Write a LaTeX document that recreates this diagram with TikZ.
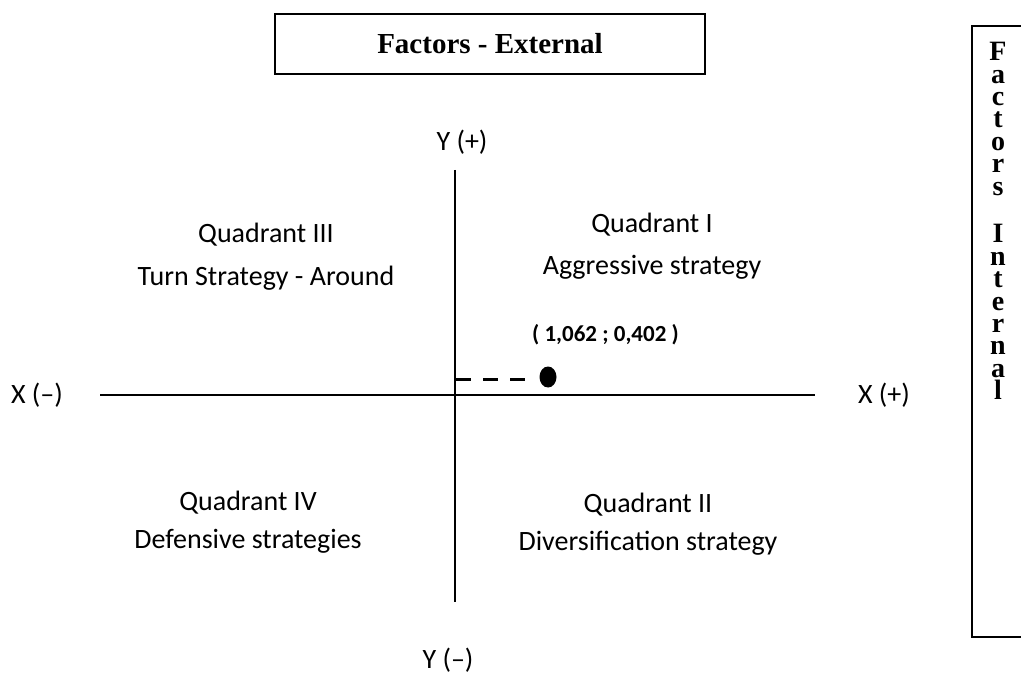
\documentclass[tikz,border=0pt]{standalone}
\usepackage{fontspec}
\setmainfont{Carlito}
\newfontfamily\timesf{Liberation Serif}
\usetikzlibrary{shapes.geometric}
\begin{document}
\begin{tikzpicture}[x=1pt,y=-1pt,
  lbl/.style={inner sep=0pt, font=\fontsize{28}{34}\selectfont},
  quad/.style={inner sep=0pt, align=center},
  axis/.style={line width=1.5pt},
  boxline/.style={line width=1.6pt}]
\useasboundingbox[fill=white] (0,0) rectangle (1021,679);
% title box
\node[draw, boxline, minimum width=430pt, minimum height=60pt, inner sep=0pt,
      font=\timesf\bfseries\fontsize{29}{34}\selectfont] (ext) at (490,44) {Factors - External};
% right box (clipped at the page edge)
\coordinate (rbt) at (1021,26);
\coordinate (rtl) at (972,26);
\coordinate (rbl) at (972,637);
\coordinate (rbb) at (1021,637);
\draw[boxline] (rbt) -- (rtl) -- (rbl) -- (rbb);
\node[inner sep=0pt, align=center, font=\timesf\bfseries\fontsize{28}{22.4}\selectfont] (int) at (998,221)
  {F\\a\\c\\t\\o\\r\\s\\[25.5pt]I\\n\\t\\e\\r\\n\\a\\l};
% axes
\coordinate (xl) at (100,395);
\coordinate (xr) at (815,395);
\coordinate (yt) at (455,170);
\coordinate (yb) at (455,602);
\draw[axis] (xl) -- (xr);
\draw[axis] (yt) -- (yb);
% axis labels
\node[lbl] (yp) at (462,142) {Y (+)};
\node[lbl] (ym) at (448,660) {Y (--)};
\node[lbl] (xm) at (37,395) {X (--)};
\node[lbl] (xp) at (884,395) {X (+)};
% quadrants
\node[lbl, quad, font=\fontsize{28}{43}\selectfont] (q3) at (266,257) {Quadrant III\\Turn Strategy - Around};
\node[lbl, quad, font=\fontsize{28}{42}\selectfont] (q1) at (652,246) {Quadrant I\\Aggressive strategy};
\node[lbl, quad, font=\fontsize{28}{38}\selectfont] (q4) at (248,522) {Quadrant IV\\Defensive strategies};
\node[lbl, quad, font=\fontsize{28}{38}\selectfont] (q2) at (648,524) {Quadrant II\\Diversification strategy};
% point
\node[ellipse, fill=black, minimum width=17pt, minimum height=21pt, inner sep=0pt] (pt) at (548,377) {};
\coordinate (dstart) at (456,379);
\coordinate (dend) at (527,379);
\draw[line width=3pt, dash pattern=on 15pt off 12pt] (dstart) -- (dend);
\node[inner sep=0pt, anchor=west, font=\bfseries\fontsize{23}{28}\selectfont] (ptl) at (532,335) {( 1,062 ; 0,402 )};
\end{tikzpicture}
\end{document}
